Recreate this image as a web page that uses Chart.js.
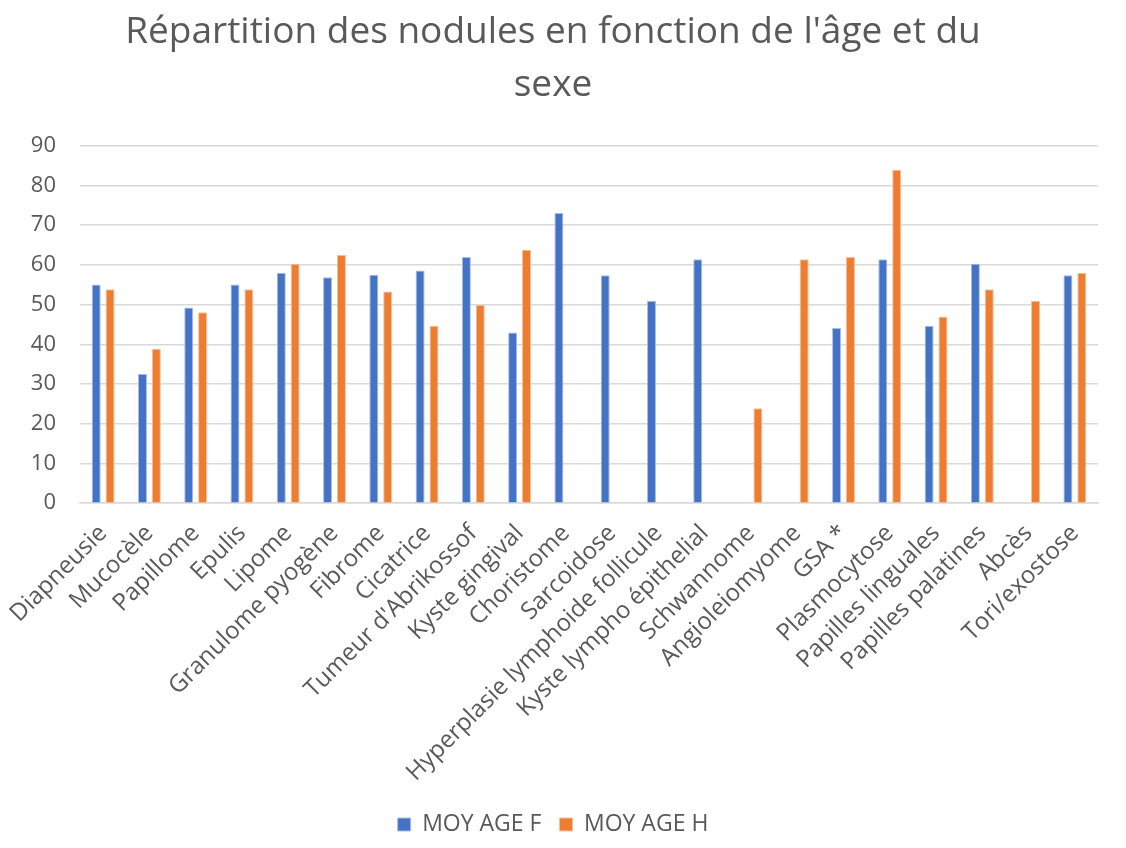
<!DOCTYPE html>
<html>
<head>
<meta charset="utf-8">
<script src="https://cdn.jsdelivr.net/npm/chart.js@4"></script>
<style>
  html, body { margin: 0; padding: 0; background: #fff; }
  #wrap { width: 1126px; height: 848px; }
</style>
</head>
<body>
<div id="wrap"><canvas id="chart"></canvas></div>
<script>
// Data
const categories = [
    "Diapneusie", "Mucocèle", "Papillome", "Epulis", "Lipome", "Granulome pyogène",
    "Fibrome", "Cicatrice", "Tumeur d'Abrikossof", "Kyste gingival", "Choristome",
    "Sarcoidose", "Hyperplasie lymphoide follicule", "Kyste lympho épithelial",
    "Schwannome", "Angioleiomyome", "GSA *", "Plasmocytose", "Papilles linguales",
    "Papilles palatines", "Abcès", "Tori/exostose"
];
const moyAgeF = [55.1, 32.5, 49.3, 55.1, 58.0, 56.9, 57.5, 58.6, 62.0, 43.0, 73.1,
    57.4, 51.0, 61.4, null, null, 44.1, 61.4, 44.7, 60.3, null, 57.4];
const moyAgeH = [53.9, 38.9, 48.1, 53.9, 60.3, 62.5, 53.3, 44.7, 49.9, 63.8, null,
    null, null, null, 23.9, 61.4, 62.0, 84.0, 47.0, 53.9, 51.0, 58.0];
const yTicks = [0, 10, 20, 30, 40, 50, 60, 70, 80, 90];

const textColor = '#595959';
const fontFamily = "'Open Sans', 'Noto Sans', sans-serif";

const ctx = document.getElementById('chart').getContext('2d');
new Chart(ctx, {
    type: 'bar',
    data: {
        labels: categories,
        datasets: [
            { label: 'MOY AGE F', data: moyAgeF, backgroundColor: '#4472C4', borderColor: '#a9bde6', borderWidth: 1 },
            { label: 'MOY AGE H', data: moyAgeH, backgroundColor: '#ED7D31', borderColor: '#f6bf98', borderWidth: 1 }
        ]
    },
    options: {
        responsive: true,
        maintainAspectRatio: false,
        animation: false,
        layout: { padding: { left: 8, right: 28, top: 6, bottom: 2 } },
        datasets: { bar: { categoryPercentage: 0.6, barPercentage: 0.65 } },
        plugins: {
            title: {
                display: true,
                text: ["Répartition des nodules en fonction de l'âge et du", "sexe"],
                color: textColor,
                font: { family: fontFamily, size: 37, weight: 'normal', lineHeight: 1.43 },
                padding: { top: 0, bottom: 34 }
            },
            legend: {
                position: 'bottom',
                labels: {
                    color: textColor,
                    font: { family: fontFamily, size: 23 },
                    boxWidth: 13,
                    boxHeight: 13,
                    padding: 18
                }
            },
            tooltip: { enabled: false }
        },
        scales: {
            x: {
                grid: { display: false },
                border: { display: true, color: '#d9d9d9', width: 1.5 },
                ticks: {
                    color: textColor,
                    font: { family: fontFamily, size: 24 },
                    maxRotation: 45,
                    minRotation: 45,
                    autoSkip: false,
                    padding: 8
                }
            },
            y: {
                min: 0,
                max: 90,
                afterBuildTicks: axis => { axis.ticks = yTicks.map(v => ({ value: v })); },
                afterFit: axis => { axis.width = 72; },
                grid: { color: '#d9d9d9', lineWidth: 1.5, drawTicks: false },
                border: { display: false },
                ticks: {
                    color: textColor,
                    font: { family: fontFamily, size: 22 },
                    padding: 24
                }
            }
        }
    }
});
</script>
</body>
</html>
